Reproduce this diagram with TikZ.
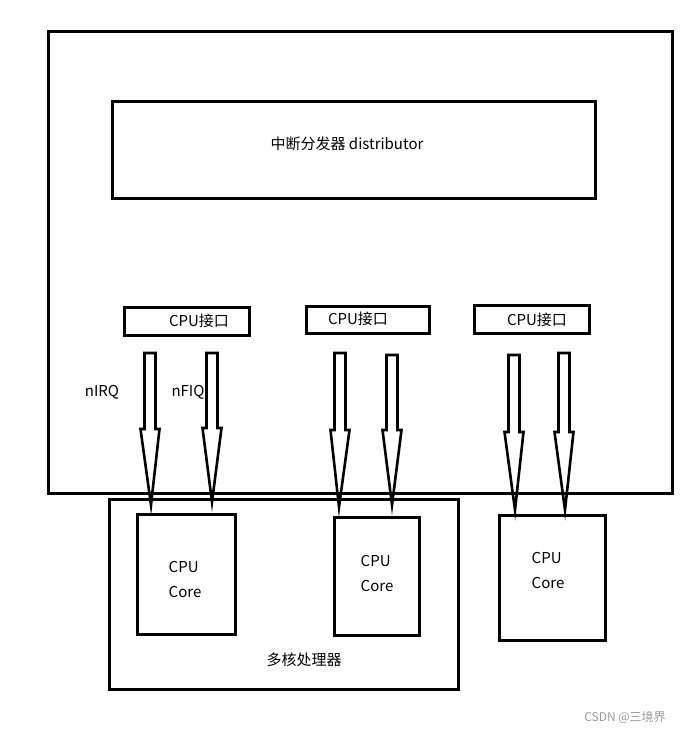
\documentclass[tikz,border=0pt]{standalone}
\usepackage{fontspec}
\setmainfont{Noto Sans CJK SC}
\usetikzlibrary{calc}
\newcommand\blkarrow[6]{% name, x top, y top, y head, x tip, y tip
  \coordinate (#1t) at (#2,#3);
  \coordinate (#1p) at (#5,#6);
  \draw[blk] ($(#1t)+(-5.5,0)$) -- ($(#1t)+(5.5,0)$) -- (#2+5.5,#4) -- (#2+9.5,#4)
    -- (#1p) -- (#2-9.5,#4) -- (#2-5.5,#4) -- cycle;}
\begin{document}
\begin{tikzpicture}[x=1pt,y=-1pt,
  box/.style={draw,line width=2.6pt,inner sep=0pt,anchor=north west},
  lbl/.style={font=\fontsize{15}{17}\selectfont,inner sep=0pt},
  blk/.style={draw,line width=2.6pt,line join=miter,miter limit=20}]
\useasboundingbox (0,0) rectangle (690,733);
% boxes
\node[box,minimum width=624pt,minimum height=462pt] (outer) at (47,30) {};
\node[box,minimum width=483pt,minimum height=97pt] (dist) at (111,100) {};
\node[lbl] (distt) at (347,144) {中断分发器 distributor};
\node[box,minimum width=125pt,minimum height=28pt] (if1) at (123,306) {};
\node[box,minimum width=123pt,minimum height=27pt] (if2) at (305,305) {};
\node[box,minimum width=115pt,minimum height=28pt] (if3) at (473,304) {};
\node[lbl] (if1t) at (199,321) {CPU接口};
\node[lbl] (if2t) at (358,319) {CPU接口};
\node[lbl] (if3t) at (537,320) {CPU接口};
\node[box,minimum width=349pt,minimum height=190pt] (multi) at (108,498) {};
\node[box,minimum width=98pt,minimum height=120pt] (core1) at (136,513) {};
\node[box,minimum width=85pt,minimum height=118pt] (core2) at (333,516) {};
\node[box,minimum width=106pt,minimum height=125pt] (core3) at (498,514) {};
\node[lbl,align=left] (c1t) at (185,579) {CPU\\[8pt]Core};
\node[lbl,align=left] (c2t) at (377,573) {CPU\\[8pt]Core};
\node[lbl,align=left] (c3t) at (548,570) {CPU\\[8pt]Core};
\node[lbl] (mt) at (304,660) {多核处理器};
\node[lbl] (irq) at (102,392) {nIRQ};
\node[lbl] (fiq) at (188,392) {nFIQ};
\node[font=\fontsize{12}{14}\selectfont,text=black!40,inner sep=0pt] (wm) at (625,717) {CSDN @三境界};
% block arrows
\blkarrow{a1}{150}{353}{429}{151}{505}
\blkarrow{a2}{212}{353}{428}{212}{502}
\blkarrow{a3}{340}{353}{430}{339}{507}
\blkarrow{a4}{392}{355}{430}{392}{505}
\blkarrow{a5}{514}{355}{432}{515}{510}
\blkarrow{a6}{564}{353}{432}{565}{510}
\end{tikzpicture}
\end{document}
